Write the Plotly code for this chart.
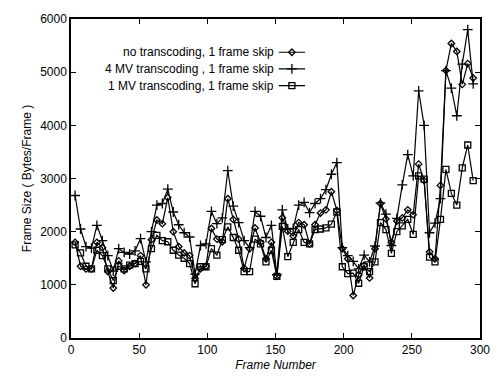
import plotly.graph_objects as go

frames = [3, 7, 11, 15, 19, 23, 27, 31, 35, 39, 43, 47, 51, 55, 59, 63, 67, 71, 75, 79,
          83, 87, 91, 95, 99, 103, 107, 111, 115, 119, 123, 127, 131, 135, 139, 143, 147, 151, 155, 159,
          163, 167, 171, 175, 179, 183, 187, 191, 195, 199, 203, 207, 211, 215, 219, 223, 227, 231, 235, 239,
          243, 247, 251, 255, 259, 263, 267, 271, 275, 279, 283, 287, 291, 295]

no_transcoding = [1800, 1350, 1300, 1300, 1800, 1700, 1250, 940, 1450, 1270, 1350, 1400, 1550, 1000, 1850, 2220, 2150, 2640, 2000, 1720,
                  1600, 1550, 1120, 1300, 1350, 2060, 1860, 1810, 2620, 2230, 1860, 1310, 1680, 2070, 1800, 1490, 1800, 1160, 2260, 2010,
                  1920, 2170, 2130, 1770, 2130, 2350, 2410, 2750, 2400, 1680, 1490, 800, 1190, 1370, 1130, 1680, 2530, 2240, 1800, 2200,
                  2260, 2410, 2320, 3270, 2960, 1620, 1490, 2870, 5030, 5540, 5390, 4770, 5160, 4890]

mv4_transcoding = [2680, 2050, 1720, 1690, 2120, 1830, 1550, 1260, 1680, 1610, 1580, 1640, 1870, 1430, 2000, 2500, 2530, 2800, 2370, 2130,
                   1980, 1900, 1200, 1740, 1770, 2380, 2150, 2260, 3150, 2480, 2170, 1830, 1700, 2380, 2290, 1890, 2120, 1190, 2410, 2050,
                   2060, 2500, 2550, 2360, 2530, 2620, 2790, 3080, 3300, 1700, 1550, 1440, 1300, 1560, 1430, 1730, 2540, 2330, 1740, 2250,
                   2880, 3450, 3050, 4650, 4000, 1980, 2160, 2620, 5030, 4700, 4180, 5150, 5800, 4780]

mv1_transcoding = [1750, 1600, 1350, 1300, 1650, 1550, 1300, 1080, 1350, 1300, 1370, 1400, 1440, 1300, 1680, 1930, 1830, 1810, 1650, 1560,
                   1500, 1400, 1020, 1340, 1340, 1680, 1560, 1850, 2090, 1890, 1650, 1250, 1250, 1860, 1770, 1430, 1650, 1160, 2100, 1530,
                   1800, 2040, 1800, 1770, 2040, 2050, 2070, 2140, 2370, 1340, 1210, 1220, 1030, 1340, 1250, 1430, 2170, 2040, 1590, 2000,
                   2110, 2230, 1950, 3050, 2990, 1520, 1430, 2230, 3170, 2720, 2500, 3200, 3630, 2960]

series_names = ["no transcoding, 1 frame skip",
                "4 MV transcoding , 1 frame skip",
                "1 MV transcoding, 1 frame skip"]
series_values = [no_transcoding, mv4_transcoding, mv1_transcoding]
symbols = ["diamond-open", "cross-thin-open", "square-open"]
sizes = [5, 7, 6]

x_ticks = [0, 50, 100, 150, 200, 250, 300]
y_ticks = [0, 1000, 2000, 3000, 4000, 5000, 6000]

W, H = 502, 384
L, R, T, B = 71, 19, 12, 46
plot_h = H - T - B
plot_w = W - L - R

fig = go.Figure()
for name, vals, sym, sz in zip(series_names, series_values, symbols, sizes):
    fig.add_trace(go.Scatter(
        x=frames, y=vals, mode="lines+markers", name=name,
        line=dict(color="black", width=1.2),
        marker=dict(symbol=sym, size=sz, color="black",
                    line=dict(color="black", width=1.3)),
        showlegend=False, cliponaxis=False))

# custom gnuplot-style key: text right aligned, sample on the right
row_px = [46, 63, 80]
key_x0, key_x1 = 280, 307
dom_y0 = (H - B - 95) / plot_h
dom_y1 = (H - B - 30) / plot_h
fig.update_layout(
    xaxis2=dict(domain=[(key_x0 - L) / plot_w, (key_x1 - L) / plot_w], range=[0, 1],
                visible=False, anchor="y2", fixedrange=True),
    yaxis2=dict(domain=[dom_y0, dom_y1], range=[95, 30], visible=False,
                anchor="x2", fixedrange=True),
)
for name, sym, sz, py in zip(series_names, symbols, sizes, row_px):
    fig.add_trace(go.Scatter(x=[0, 1], y=[py, py], xaxis="x2", yaxis="y2",
                             mode="lines", line=dict(color="black", width=1.2),
                             showlegend=False, hoverinfo="skip"))
    fig.add_trace(go.Scatter(x=[0.5], y=[py], xaxis="x2", yaxis="y2",
                             mode="markers",
                             marker=dict(symbol=sym, size=sz, color="black",
                                         line=dict(color="black", width=1.3)),
                             showlegend=False, hoverinfo="skip"))
    fig.add_annotation(x=(key_x0 - 2 - L) / plot_w, y=(H - B - py) / plot_h,
                       xref="paper", yref="paper", xanchor="right", yanchor="middle",
                       text=name, showarrow=False,
                       font=dict(family="Liberation Sans", size=12, color="black"))

axis_common = dict(showgrid=False, zeroline=False, showline=True, linecolor="black",
                   linewidth=1.5, mirror="ticks", ticks="inside", ticklen=5,
                   tickcolor="black", tickwidth=1,
                   tickfont=dict(family="Liberation Sans", size=12, color="black"))

fig.update_layout(
    width=W, height=H,
    margin=dict(l=L, r=R, t=T, b=B),
    paper_bgcolor="white", plot_bgcolor="white",
    xaxis=dict(range=[0, 300], tickvals=x_ticks,
               title=dict(text="<i>Frame Number</i>", standoff=4,
                          font=dict(family="Liberation Sans", size=12, color="black")),
               **axis_common),
    yaxis=dict(range=[0, 6000], tickvals=y_ticks,
               title=dict(text="Frame Size ( Bytes/Frame )", standoff=6,
                          font=dict(family="Liberation Sans", size=12, color="black")),
               **axis_common),
)

fig.write_html("out.html")
